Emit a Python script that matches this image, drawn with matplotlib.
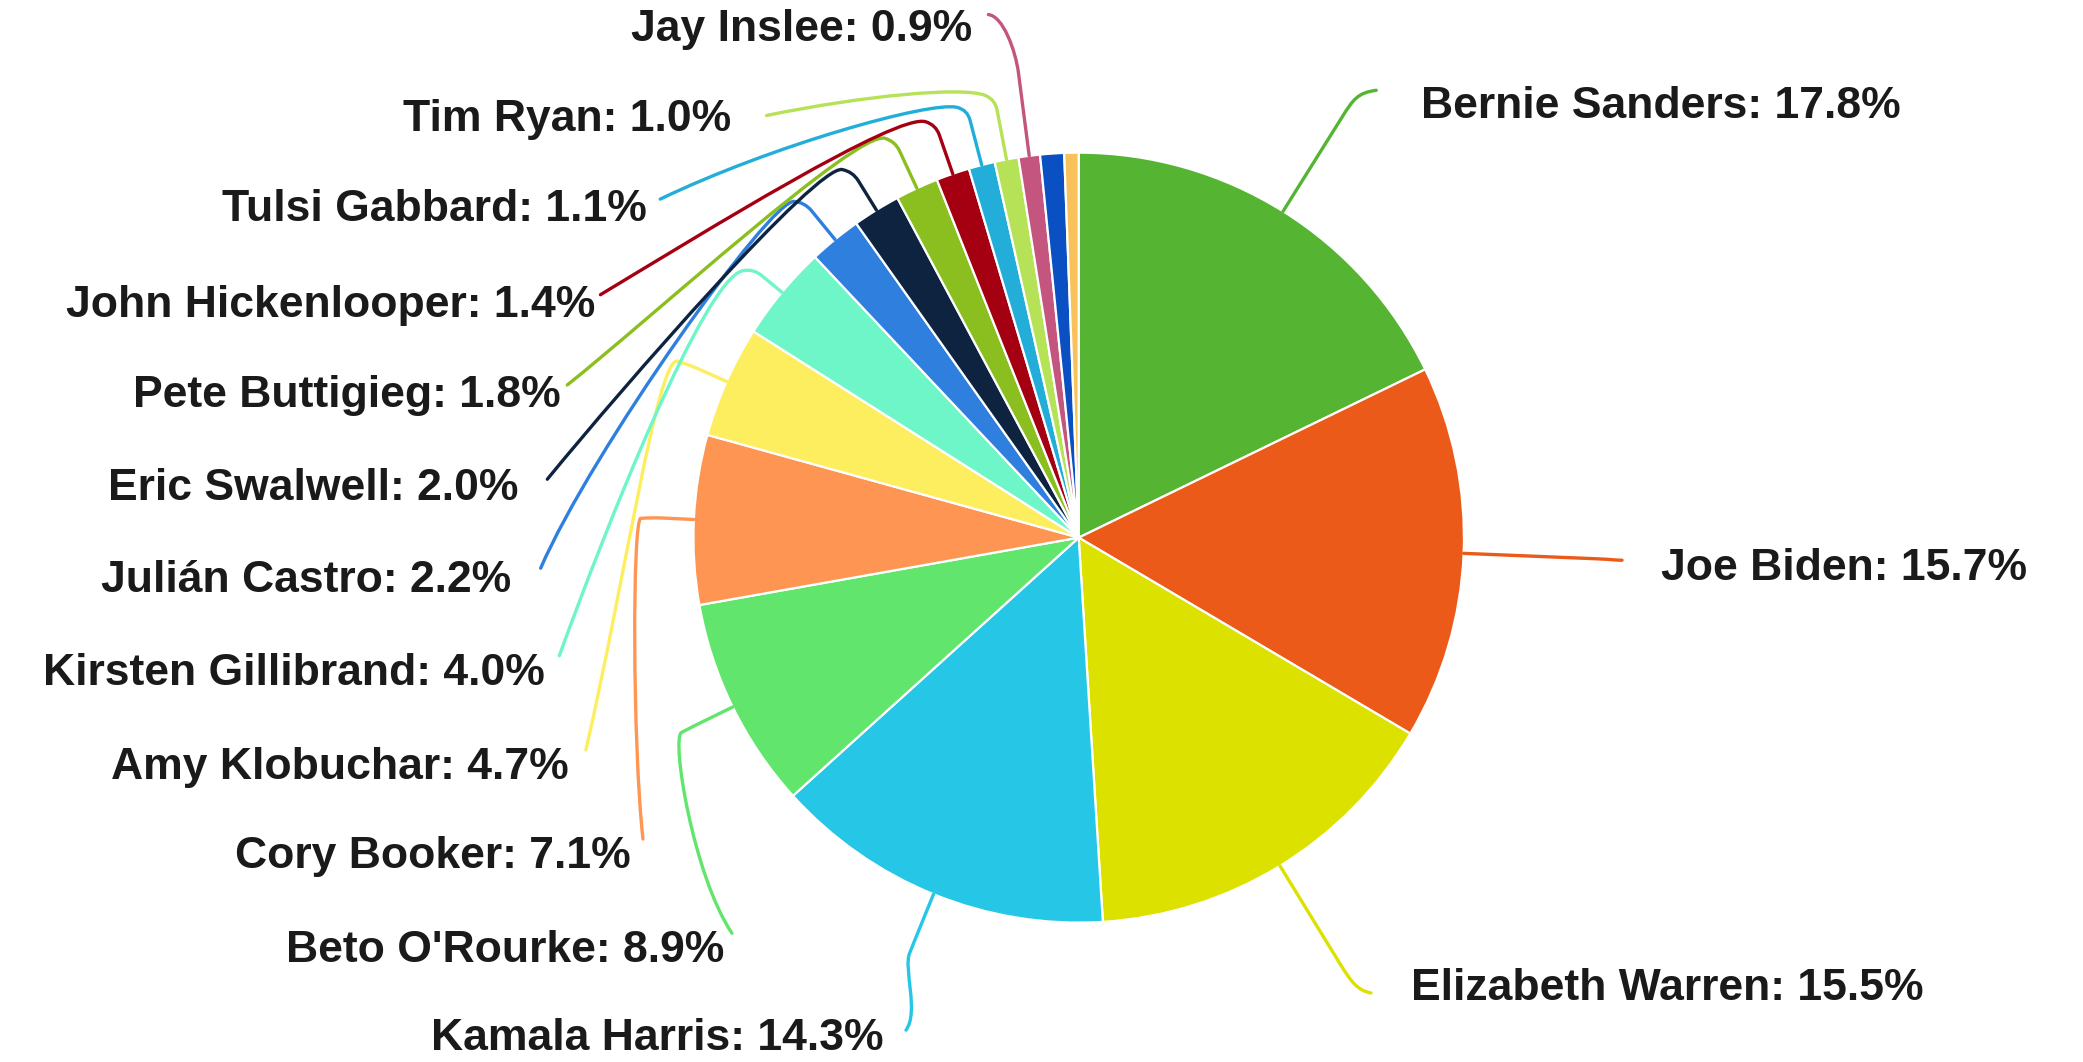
import numpy as np
import matplotlib.pyplot as plt
from matplotlib.path import Path
from matplotlib.patches import PathPatch

# poll shares, clockwise from 12 o'clock
names = ["Bernie Sanders", "Joe Biden", "Elizabeth Warren", "Kamala Harris",
         "Beto O'Rourke", "Cory Booker", "Amy Klobuchar", "Kirsten Gillibrand",
         "Julián Castro", "Eric Swalwell", "Pete Buttigieg", "John Hickenlooper",
         "Tulsi Gabbard", "Tim Ryan", "Jay Inslee"]
shares = [17.8, 15.7, 15.5, 14.3, 8.9, 7.1, 4.7, 4.0, 2.2, 2.0, 1.8, 1.4,
          1.1, 1.0, 0.9]
# two small slices without a label
other_shares = [1.0, 0.6]

colours = ["#55b432", "#ec5a1a", "#dce100", "#26c7e6", "#62e56c", "#fe9552",
           "#fdee5f", "#6ff6c8", "#2f7fdf", "#0e2340", "#8bbf20", "#a50012",
           "#23aeda", "#b6e258", "#c4557e"]
other_colours = ["#0a50c2", "#f8c15a"]

# layout in a 1568 x 800 frame, y pointing down
W, H = 1568, 800
CX, CY, R = 812, 405, 290

# label anchor, text alignment, knee distance and curve points of each leader
layout = {
    "Bernie Sanders":     dict(t=(1070, 80),  ha="left",  dk=365, c1=None,      c2=(1022, 70),  e=(1036, 68)),
    "Joe Biden":          dict(t=(1250, 428), ha="left",  dk=380, c1=None,      c2=(1215, 422), e=(1221, 422)),
    "Elizabeth Warren":   dict(t=(1062, 745), ha="left",  dk=368, c1=None,      c2=(1022, 746), e=(1032, 748)),
    "Kamala Harris":      dict(t=(665, 782),  ha="right", dk=330, c1=(680, 730), c2=(692, 762), e=(682, 776)),
    "Beto O'Rourke":      dict(t=(545, 716),  ha="right", dk=325, c1=(505, 556), c2=(522, 660), e=(551, 703)),
    "Cory Booker":        dict(t=(475, 645),  ha="right", dk=322, c1=(476, 391), c2=(476, 560), e=(484, 632)),
    "Amy Klobuchar":      dict(t=(428, 578),  ha="right", dk=322, c1=(495, 268), c2=(470, 440), e=(441, 565)),
    "Kirsten Gillibrand": dict(t=(410, 507),  ha="right", dk=318, c1=(530, 210), c2=(455, 400), e=(421, 494)),
    "Julián Castro":      dict(t=(385, 437),  ha="right", dk=326, c1=(580, 150), c2=(445, 340), e=(407, 428)),
    "Eric Swalwell":      dict(t=(390, 368),  ha="right", dk=324, c1=(615, 124), c2=(470, 290), e=(412, 361)),
    "Pete Buttigieg":     dict(t=(422, 298),  ha="right", dk=329, c1=(645, 98),  c2=(490, 240), e=(427, 290)),
    "John Hickenlooper":  dict(t=(448, 230),  ha="right", dk=329, c1=(675, 85),  c2=(530, 175), e=(452, 222)),
    "Tulsi Gabbard":      dict(t=(487, 158),  ha="right", dk=333, c1=(700, 76),  c2=(580, 110), e=(497, 150)),
    "Tim Ryan":           dict(t=(550, 90),   ha="right", dk=336, c1=(725, 65),  c2=(650, 72),  e=(577, 87)),
    "Jay Inslee":         dict(t=(732, 22),   ha="right", dk=345, c1=None,      c2=(755, 12),  e=(744, 11)),
}


def to_data(p):
    return (p[0], H - p[1])


fig = plt.figure(figsize=(20.83, 10.62), dpi=100)
ax = fig.add_axes([0, 0, 1, 1])

values = shares + other_shares
wedges, _ = ax.pie(values, colors=colours + other_colours, startangle=90,
                   counterclock=False, center=to_data((CX, CY)), radius=R,
                   wedgeprops=dict(edgecolor="white", linewidth=1.6))
ax.set_xlim(0, W)
ax.set_ylim(0, H)
ax.set_aspect("equal", adjustable="datalim")
ax.axis("off")

total = float(sum(values))
start = 90.0
for i, name in enumerate(names):
    span = 360.0 * shares[i] / total
    mid = np.radians(start - span / 2)
    start -= span
    u = np.array([np.cos(mid), -np.sin(mid)])  # display frame, y down
    c = np.array([CX, CY], dtype=float)
    lay = layout[name]

    p0 = c + R * u
    k = c + lay["dk"] * u
    c1 = c + (lay["dk"] + 25) * u if lay["c1"] is None else np.array(lay["c1"], dtype=float)
    c2 = np.array(lay["c2"], dtype=float)
    e = np.array(lay["e"], dtype=float)

    # rounded knee
    rr = 8.0
    d = c1 - k
    n = np.hypot(*d)
    b = k + rr * d / n if n > 1e-6 else k
    a = k - rr * u
    pts = [p0, a, k, b, c1, c2, e]
    codes = [Path.MOVETO, Path.LINETO, Path.CURVE3, Path.CURVE3,
             Path.CURVE4, Path.CURVE4, Path.CURVE4]
    path = Path([to_data(p) for p in pts], codes)
    ax.add_patch(PathPatch(path, facecolor="none", edgecolor=colours[i],
                           linewidth=2.4, capstyle="round", zorder=1))

    tx, ty = to_data(lay["t"])
    ax.text(tx, ty, "%s: %.1f%%" % (name, shares[i]), ha=lay["ha"], va="center",
            fontsize=32, fontweight="bold", family="Liberation Sans",
            color="#1a1a1a")

fig.savefig("out.png", dpi=100, facecolor="white")
